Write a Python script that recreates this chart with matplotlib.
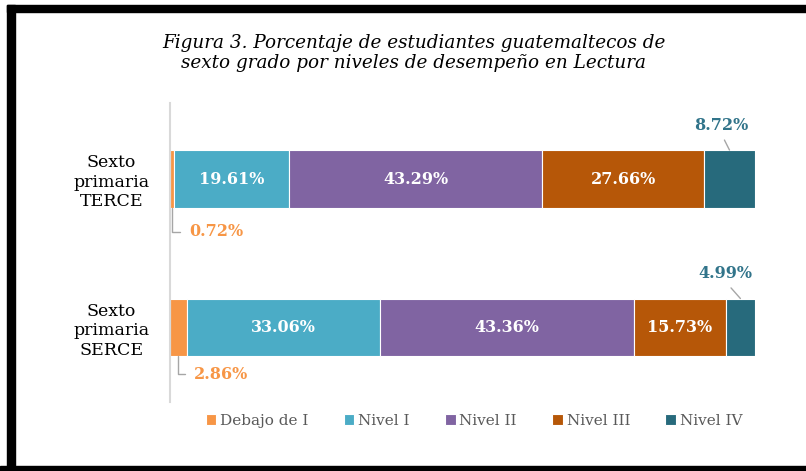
import matplotlib
matplotlib.use("Agg")
import matplotlib.pyplot as plt
import numpy as np

plt.rcParams['font.family'] = 'DejaVu Serif'

grupos = ["Sexto\nprimaria\nSERCE", "Sexto\nprimaria\nTERCE"]
niveles = ["Debajo de I", "Nivel I", "Nivel II", "Nivel III", "Nivel IV"]
# filas: SERCE, TERCE
valores = np.array([[2.86, 33.06, 43.36, 15.73, 4.99],
                    [0.72, 19.61, 43.29, 27.66, 8.72]])
colores = ["#F79646", "#4BACC6", "#8064A2", "#B65708", "#276A7C"]
titulo = "Figura 3. Porcentaje de estudiantes guatemaltecos de\nsexto grado por niveles de desempeño en Lectura"

fig = plt.figure(figsize=(8.06, 4.71), dpi=100)
ax = fig.add_axes([170/806, 1-402/471, 585/806, 299/471])

y = np.arange(len(grupos))
alto = 0.39
izq = np.zeros(len(grupos))
for j in range(len(niveles)):
    ax.barh(y, valores[:, j], left=izq, height=alto, color=colores[j],
            edgecolor="white", linewidth=0.8, label=niveles[j])
    for i in range(len(grupos)):
        v = valores[i, j]
        cx = izq[i] + v/2
        if 1 <= j <= 3:
            ax.text(cx, y[i], "%.2f%%" % v, ha="center", va="center",
                    color="white", fontsize=11.5, fontweight="bold")
        elif j == 0:
            off = (12, -17) if i == 1 else (11, -13)
            ax.annotate("%.2f%%" % v, xy=(cx, y[i]-alto/2), xytext=off,
                        textcoords="offset points", ha="left", va="center",
                        color="#F79646", fontsize=11.5, fontweight="bold",
                        arrowprops=dict(arrowstyle="-", color="#A6A6A6", lw=1,
                                        relpos=(0, 0.5), shrinkA=4, shrinkB=0,
                                        connectionstyle="angle,angleA=0,angleB=90,rad=0"))
        else:
            off = (-6, 18) if i == 1 else (-10.5, 18)
            ax.annotate("%.2f%%" % v, xy=(cx, y[i]+alto/2), xytext=off,
                        textcoords="offset points", ha="center", va="center",
                        color="#31748A", fontsize=11.5, fontweight="bold",
                        arrowprops=dict(arrowstyle="-", color="#A6A6A6", lw=1,
                                        relpos=(0.5, 0), shrinkA=3, shrinkB=0))
    izq += valores[:, j]

ax.set_xlim(0, 100)
ax.set_ylim(-0.502, 1.512)
ax.set_yticks(y)
ax.set_yticklabels(grupos, fontsize=12.5, ha="center", linespacing=1.2)
ax.tick_params(axis="y", length=0, pad=42)
ax.set_xticks([])
for s in ["top", "right", "bottom"]:
    ax.spines[s].set_visible(False)
ax.spines["left"].set_color("#D9D9D9")
ax.spines["left"].set_linewidth(1.5)

fig.text(414/806, 1-53/471, titulo, ha="center", va="center", fontsize=13.2,
         style="italic", linespacing=1.15)

leg = fig.legend(loc="center", bbox_to_anchor=(474/806, 1-421/471), ncol=5,
                 frameon=False, fontsize=11, handlelength=0.7, handleheight=0.7,
                 handletextpad=0.25, columnspacing=2.3)
for t in leg.get_texts():
    t.set_color("#595959")

# marco negro
fig.patches.append(plt.Rectangle((7/806, 0), 8/806, 1-5/471, transform=fig.transFigure,
                                 color="black"))
fig.patches.append(plt.Rectangle((7/806, 1-12/471), 1, 7/471, transform=fig.transFigure,
                                 color="black"))
fig.patches.append(plt.Rectangle((0, 0), 1, 5/471, transform=fig.transFigure,
                                 color="black"))

fig.savefig("out.png", dpi=100)
